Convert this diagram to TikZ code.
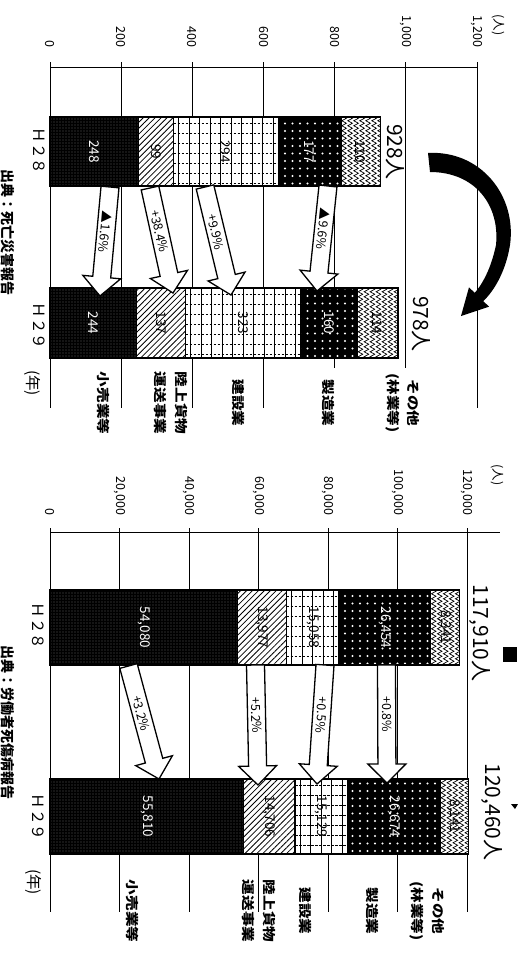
\documentclass[tikz,border=0pt]{standalone}
\usepackage{graphicx}
\usepackage{fontspec}
\setmainfont{Noto Sans CJK JP}
\usetikzlibrary{calc,patterns,patterns.meta,decorations.pathmorphing}
\newcommand\fs[1]{\fontsize{#1}{#1}\selectfont}
\newcommand\cl[1]{\scalebox{1.2}[1]{#1}}
\tikzset{
 rt/.style={rotate=-90, inner sep=0pt, outer sep=0pt},
 axlab/.style={rt, anchor=east, font=\fs{12.5}},
 gline/.style={line width=1pt},
 barline/.style={draw=black, line width=1.1pt},
 val/.style={rt, font=\fs{13.5}},
 wval/.style={val, text=white},
 cat/.style={rt, align=center, font=\bfseries\fontsize{13}{20.5}\selectfont},
 yr/.style={rt, font=\fs{15.5}},
 total/.style={rt, font=\fs{21}},
 src/.style={rt, font=\bfseries\fs{14}},
 pct/.style={font=\fs{12.5}, inner sep=0pt},
 arrowbox/.style={draw=black, fill=white, line width=1.3pt, line join=miter},
}
% segments: x0 x1 y0 y1
\newcommand\segA[4]{%
 \fill[black] (#1,#3) rectangle (#2,#4);
 \fill[pattern={Dots[radius=0.45pt,distance=3pt]}, pattern color=white] (#1,#3) rectangle (#2,#4);
 \draw[barline] (#1,#3) rectangle (#2,#4);}
\newcommand\segB[4]{%
 \fill[white] (#1,#3) rectangle (#2,#4);
 \fill[pattern={Lines[angle=45,distance=4.2pt,line width=0.8pt]}, pattern color=black] (#1,#3) rectangle (#2,#4);
 \draw[barline] (#1,#3) rectangle (#2,#4);}
\newcommand\segC[4]{%
 \fill[white] (#1,#3) rectangle (#2,#4);
 \begin{scope}
 \clip (#1,#3) rectangle (#2,#4);
 \foreach \gx in {5,15.5,...,140} \draw[line width=0.6pt] ({#1+\gx},#3) -- ({#1+\gx},#4);
 \foreach \gy in {6,16,...,80} \draw[line width=0.6pt, dash pattern=on 2.5pt off 1.5pt] (#1,{#3+\gy}) -- (#2,{#3+\gy});
 \end{scope}
 \draw[barline] (#1,#3) rectangle (#2,#4);}
\newcommand\segD[4]{%
 \fill[black] (#1,#3) rectangle (#2,#4);
 \fill[pattern={Dots[radius=1.1pt,distance=7.5pt]}, pattern color=white] (#1,#3) rectangle (#2,#4);
 \draw[barline] (#1,#3) rectangle (#2,#4);}
\newcommand\segE[4]{%
 \fill[white] (#1,#3) rectangle (#2,#4);
 \begin{scope}
 \clip (#1,#3) rectangle (#2,#4);
 \foreach \gx in {3,9,...,45} \draw[line width=0.7pt, decorate, decoration={zigzag,segment length=5pt,amplitude=2.3pt}] ({#1+\gx},{#3-5}) -- ({#1+\gx},{#4+5});
 \end{scope}
 \draw[barline] (#1,#3) rectangle (#2,#4);}
\newcommand\stackbar[8]{%
 \segA{#3}{#4}{#1}{#2}\segB{#4}{#5}{#1}{#2}\segC{#5}{#6}{#1}{#2}\segD{#6}{#7}{#1}{#2}\segE{#7}{#8}{#1}{#2}}
\newcommand\blockarrow[3]{%
 \coordinate (#1c) at ($(#2)!19pt!(#1)$);
 \draw[arrowbox] ($(#1)!9pt!90:(#2)$) -- ($(#1c)!9pt!90:(#2)$) -- ($(#1c)!19pt!90:(#2)$) -- (#2) -- ($(#1c)!19pt!-90:(#2)$) -- ($(#1c)!9pt!-90:(#2)$) -- ($(#1)!9pt!-90:(#2)$) -- cycle;
 \path (#1) -- (#1c) node[midway, sloped, allow upside down, pct] (#1t) {#3};}
\begin{document}
\begin{tikzpicture}[x=1pt,y=-1pt]
\useasboundingbox (0,0) rectangle (518,956);
\fill[white] (0,0) rectangle (518,956);

% ---------- left chart: grid and axis ----------
\foreach \gx in {50,121.2,192.3,263.5,477} \draw[gline] (\gx,62) -- (\gx,408);
\foreach \gx in {334.7,405.8} \draw[gline] (\gx,62) -- (\gx,368);
\draw[gline] (50,67) -- (477,67);
\node[axlab] (l0) at (50,47) {0};
\node[axlab] (l1) at (121.2,47) {200};
\node[axlab] (l2) at (192.3,47) {400};
\node[axlab] (l3) at (263.5,47) {600};
\node[axlab] (l4) at (334.7,47) {800};
\node[axlab] (l5) at (405.8,47) {1,000};
\node[axlab] (l6) at (477,47) {1,200};
\node[rt, font=\fs{12.5}] (lunit) at (498,25) {(人)};

% ---------- right chart: grid and axis ----------
\foreach \gx in {50,119.5,189,258.5,328,397.5,467} \draw[gline] (\gx,528) -- (\gx,912);
\draw[gline] (50,532) -- (500,532);
\node[axlab] (r0) at (50,515) {0};
\node[axlab] (r1) at (119.5,515) {20,000};
\node[axlab] (r2) at (189,515) {40,000};
\node[axlab] (r3) at (258.5,515) {60,000};
\node[axlab] (r4) at (328,515) {80,000};
\node[axlab] (r5) at (397.5,515) {100,000};
\node[axlab] (r6) at (467,515) {120,000};
\node[rt, font=\fs{12.5}] (runit) at (497,475) {(人)};

% ---------- bars ----------
\stackbar{117}{186}{50}{138.2}{173.5}{278.1}{341.1}{380.2}
\stackbar{288}{358}{50}{136.8}{185.6}{300.5}{357.4}{398.0}
\stackbar{590}{665}{50}{237.9}{286.5}{338.8}{430.7}{459.7}
\stackbar{779}{854}{50}{243.9}{295.0}{347.6}{440.3}{468.6}

% values left H28
\node[wval] (v11) at (94.1,151.5) {248};
\node[val] (v12) at (155.9,151.5) {99};
\node[val] (v13) at (225.8,151.5) {294};
\node[wval] (v14) at (309.6,151.5) {177};
\node[val] (v15) at (360.7,151.5) {110};
% values left H29
\node[wval] (v21) at (93.4,323) {244};
\node[val] (v22) at (161.2,323) {137};
\node[val] (v23) at (243.1,323) {323};
\node[wval] (v24) at (329.0,323) {160};
\node[val] (v25) at (377.7,323) {114};
% values right H28
\node[wval] (v31) at (144.0,627.5) {54,080};
\node[val] (v32) at (262.2,627.5) {13,977};
\node[val] (v33) at (312.7,627.5) {15,058};
\node[wval] (v34) at (384.8,627.5) {26,454};
\node[val] (v35) at (445.2,627.5) {8,341};
% values right H29
\node[wval] (v41) at (147.0,816.5) {55,810};
\node[val] (v42) at (269.5,816.5) {14,706};
\node[val] (v43) at (321.3,816.5) {15,129};
\node[wval] (v44) at (394.0,816.5) {26,674};
\node[val] (v45) at (454.5,816.5) {8,141};

% totals
\node[total] (t1) at (395,152) {928人};
\node[total] (t2) at (421,324) {978人};
\node[total] (t3) at (480,633) {117,910人};
\node[total] (t4) at (492,812) {120,460人};

% years
\node[yr] (y1) at (39,151) {Ｈ２８};
\node[yr] (y2) at (39,326) {Ｈ２９};
\node[yr] (y3) at (33,383) {(年)};
\node[yr] (y4) at (38,626) {Ｈ２８};
\node[yr] (y5) at (38,817) {Ｈ２９};
\node[yr] (y6) at (34,882) {(年)};

% categories left
\node[cat] (c11) at (103,403) {\cl{小売業等}};
\node[cat] (c12) at (171,403) {\cl{陸上貨物}\\\cl{運送事業}};
\node[cat] (c13) at (238,403) {\cl{建設業}};
\node[cat] (c14) at (328,403) {\cl{製造業}};
\node[cat] (c15) at (402.5,403) {\cl{その他}\\\cl{(林業等)}};
% categories right
\node[cat] (c21) at (132,911) {\cl{小売業等}};
\node[cat] (c22) at (259,911) {\cl{陸上貨物}\\\cl{運送事業}};
\node[cat] (c23) at (305,911) {\cl{建設業}};
\node[cat] (c24) at (372,911) {\cl{製造業}};
\node[cat] (c25) at (427,911) {\cl{その他}\\\cl{(林業等)}};

% sources
\node[src] (s1) at (8,232) {出典：死亡災害報告};
\node[src] (s2) at (8,722) {出典：労働者死傷病報告};

% block arrows left
\coordinate (a1) at (328,186); \coordinate (a1e) at (317,291);
\coordinate (a2) at (205,187); \coordinate (a2e) at (231,295);
\coordinate (a3) at (150,188); \coordinate (a3e) at (173,293);
\coordinate (a4) at (110,187); \coordinate (a4e) at (100,296);
\blockarrow{a1}{a1e}{▲9.6\%}
\blockarrow{a2}{a2e}{+9.9\%}
\blockarrow{a3}{a3e}{+38.4\%}
\blockarrow{a4}{a4e}{▲1.6\%}
% block arrows right
\coordinate (b1) at (386.5,665); \coordinate (b1e) at (387,783);
\coordinate (b2) at (325,665); \coordinate (b2e) at (317,784);
\coordinate (b3) at (255.5,665); \coordinate (b3e) at (258,785);
\coordinate (b4) at (128.5,666); \coordinate (b4e) at (159,779);
\blockarrow{b1}{b1e}{+0.8\%}
\blockarrow{b2}{b2e}{+0.5\%}
\blockarrow{b3}{b3e}{+5.2\%}
\blockarrow{b4}{b4e}{+3.2\%}

% big curved arrow
\fill[black] (428,153) .. controls (480,150) and (517,195) .. (510,245)
  .. controls (506,270) and (495,290) .. (483.3,301.1)
  -- (489,306.7) -- (461,316) -- (469,287.3) -- (474.7,292.9)
  .. controls (485,281) and (492,264) .. (496,245)
  .. controls (500,205) and (475,172) .. (430,172) -- cycle;
% fragments at right edge
\fill[black] (503,647) rectangle (517,662);
\fill[black] (511,804) -- (518,804) -- (515,809) -- cycle;
\end{tikzpicture}
\end{document}
